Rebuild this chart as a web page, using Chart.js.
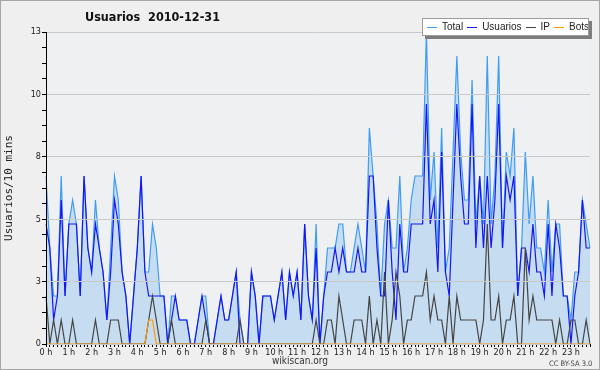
<!DOCTYPE html>
<html>
<head>
<meta charset="utf-8">
<script src="https://cdn.jsdelivr.net/npm/chart.js@4.4.0/dist/chart.umd.min.js"></script>
<style>
  body { margin: 0; background: #efefef; }
  .wrap { position: relative; width: 600px; height: 370px; background: #efefef; font-family: "DejaVu Sans Condensed", "DejaVu Sans", sans-serif; color: #222; }
  .wrap canvas { position: absolute; left: 0; top: 0; }
  .edge { position: absolute; left: 0; top: 0; width: 600px; height: 370px; box-sizing: border-box; border: 1px solid #a6a6a6; pointer-events: none; }
  .title { position: absolute; left: 85px; top: 9px; font-weight: bold; font-size: 12.5px; white-space: pre; color: #111; }
  .legend { position: absolute; left: 422px; top: 18px; width: 167px; height: 18px; box-sizing: border-box; background: #fff; border: 1px solid #9c9c9c; box-shadow: 3px 3px 0 #7d7d7d; font-family: "Liberation Sans", Arial, sans-serif; font-size: 10px; line-height: 16px; white-space: nowrap; padding-left: 4px; overflow: hidden; color: #222; }
  .legend span.mk { display: inline-block; width: 10px; height: 0; border-top: 1px solid; vertical-align: middle; margin: 0 5px 0 4px; }
  .legend span.mk:first-child { margin-left: 0; }
  .foot { position: absolute; left: 0; width: 600px; top: 355px; text-align: center; font-size: 10px; color: #333; }
  .cc { position: absolute; left: 549px; top: 359px; font-size: 7.5px; color: #444; }
</style>
</head>
<body>
<div class="wrap">
  <canvas id="chart" width="600" height="370"></canvas>
  <div class="title">Usuarios  2010-12-31</div>
  <div class="legend" id="legend"></div>
  <div class="foot">wikiscan.org</div>
  <div class="cc">CC BY-SA 3.0</div>
  <div class="edge"></div>
</div>
<script>
// one point every 10 minutes, 0:00 .. 23:50
const slots = Array.from({ length: 144 }, (_, i) =>
  `${Math.floor(i / 6)}:${String((i % 6) * 10).padStart(2, "0")}`
);

const total = [
  7, 4, 2, 2, 7, 2, 5, 6, 5, 2,
  7, 4, 3, 6, 4, 3, 1, 4, 7, 6,
  3, 2, 0, 2, 4, 7, 3, 3, 5, 4,
  2, 2, 0, 2, 2, 1, 1, 1, 0, 0,
  1, 2, 2, 0, 0, 1, 2, 1, 1, 2,
  3, 1, 0, 0, 3, 2, 0, 2, 2, 2,
  1, 2, 3, 1, 3, 2, 3, 1, 5, 2,
  1, 5, 0, 2, 4, 4, 4, 5, 5, 3,
  3, 4, 5, 4, 3, 9, 7, 5, 2, 5,
  6, 4, 4, 7, 3, 4, 6, 7, 7, 7,
  13, 6, 8, 4, 9, 3, 4, 8, 12, 8,
  6, 6, 11, 5, 7, 5, 12, 5, 7, 12,
  4, 8, 7, 9, 2, 4, 8, 5, 7, 4,
  4, 3, 6, 3, 5, 5, 2, 2, 1, 3,
  3, 6, 5, 4,
];

const usuarios = [
  5, 4, 1, 2, 6, 2, 5, 5, 5, 2,
  7, 4, 3, 5, 4, 3, 1, 3, 6, 5,
  3, 2, 0, 2, 4, 7, 3, 2, 2, 2,
  2, 2, 0, 1, 2, 1, 1, 1, 0, 0,
  1, 2, 1, 0, 0, 1, 2, 1, 1, 2,
  3, 0, 0, 0, 3, 2, 0, 2, 2, 2,
  1, 2, 3, 1, 3, 2, 3, 1, 5, 2,
  1, 4, 0, 2, 3, 3, 4, 3, 4, 3,
  3, 3, 4, 3, 3, 7, 7, 4, 2, 2,
  6, 3, 1, 5, 3, 3, 5, 5, 5, 5,
  10, 5, 6, 3, 8, 3, 2, 6, 10, 7,
  5, 5, 10, 4, 7, 4, 7, 4, 6, 10,
  4, 7, 6, 7, 2, 4, 4, 3, 5, 3,
  3, 2, 5, 2, 5, 4, 2, 2, 0, 2,
  3, 6, 4, 4,
];

const ip = [
  2, 0, 1, 0, 1, 0, 0, 1, 0, 0,
  0, 0, 0, 1, 0, 0, 0, 1, 1, 1,
  0, 0, 0, 0, 0, 0, 0, 1, 2, 1,
  0, 0, 0, 1, 0, 0, 0, 0, 0, 0,
  0, 0, 1, 0, 0, 0, 0, 0, 0, 0,
  0, 1, 0, 0, 0, 0, 0, 0, 0, 0,
  0, 0, 0, 0, 0, 0, 0, 0, 0, 0,
  0, 1, 0, 0, 1, 1, 0, 2, 1, 0,
  0, 1, 1, 1, 0, 2, 0, 1, 0, 3,
  0, 1, 3, 2, 0, 1, 1, 2, 2, 2,
  3, 1, 2, 1, 1, 0, 2, 0, 2, 1,
  1, 1, 1, 1, 0, 1, 5, 1, 1, 2,
  0, 1, 1, 2, 0, 0, 4, 1, 2, 1,
  1, 1, 1, 1, 0, 1, 0, 0, 1, 1,
  0, 0, 1, 0,
];

const bots = [
  0, 0, 0, 0, 0, 0, 0, 0, 0, 0,
  0, 0, 0, 0, 0, 0, 0, 0, 0, 0,
  0, 0, 0, 0, 0, 0, 0, 1, 1, 0,
  0, 0, 0, 0, 0, 0, 0, 0, 0, 0,
  0, 0, 0, 0, 0, 0, 0, 0, 0, 0,
  0, 0, 0, 0, 0, 0, 0, 0, 0, 0,
  0, 0, 0, 0, 0, 0, 0, 0, 0, 0,
  0, 0, 0, 0, 0, 0, 0, 0, 0, 0,
  0, 0, 0, 0, 0, 0, 0, 0, 0, 0,
  0, 0, 0, 0, 0, 0, 0, 0, 0, 0,
  0, 0, 0, 0, 0, 0, 0, 0, 0, 0,
  0, 0, 0, 0, 0, 0, 0, 0, 0, 0,
  0, 0, 0, 0, 0, 0, 0, 0, 0, 0,
  0, 0, 0, 0, 0, 0, 0, 0, 0, 0,
  0, 0, 0, 0,
];

const yMax = 13;
const yStep = 0.65; // 4 minor steps between labelled ticks

const series = [
  { label: "Total", data: total, color: "#3d9cf5", fill: "#c6dcf0", order: 4 },
  { label: "Usuarios", data: usuarios, color: "#1515f5", order: 3 },
  { label: "IP", data: ip, color: "#444444", order: 2 },
  { label: "Bots", data: bots, color: "#ff9900", order: 1 },
];

const legend = document.getElementById("legend");
series.forEach((s) => {
  const mk = document.createElement("span");
  mk.className = "mk";
  mk.style.borderColor = s.color;
  legend.appendChild(mk);
  legend.appendChild(document.createTextNode(s.label));
});

const plotBg = {
  id: "plotBg",
  beforeDraw(chart) {
    const { ctx, chartArea: a } = chart;
    ctx.save();
    ctx.fillStyle = "#eef0f2";
    ctx.fillRect(a.left, a.top, a.right - a.left, a.bottom - a.top);
    ctx.restore();
  },
};

new Chart(document.getElementById("chart"), {
  type: "line",
  data: {
    labels: slots,
    datasets: series.map((s) => ({
      label: s.label,
      data: s.data,
      borderColor: s.color,
      backgroundColor: s.fill || s.color,
      fill: s.fill ? "origin" : false,
      borderWidth: 1.2,
      pointRadius: 0,
      tension: 0,
      order: s.order,
    })),
  },
  options: {
    responsive: false,
    animation: false,
    devicePixelRatio: 1,
    layout: { padding: { top: 32, right: 10, left: 0, bottom: 0 } },
    plugins: { legend: { display: false }, tooltip: { enabled: false } },
    scales: {
      x: {
        offset: false,
        afterFit: (s) => { s.height = 26; },
        grid: { drawOnChartArea: false, drawTicks: true, tickLength: 3, tickColor: "#000" },
        border: { color: "#000", z: 1 },
        ticks: {
          autoSkip: false,
          maxRotation: 0,
          padding: 0,
          color: "#222",
          font: { family: "'DejaVu Sans Condensed', 'DejaVu Sans'", size: 9 },
          callback: (v, i) => (i % 6 === 0 ? `${i / 6} h` : ""),
        },
      },
      y: {
        min: 0,
        max: yMax,
        afterFit: (s) => { s.width = 46; },
        grid: {
          color: (c) => (c.index % 4 === 0 ? "#c9c9c9" : "rgba(0,0,0,0)"),
          tickColor: "#000",
          tickLength: 4,
          z: 1,
        },
        border: { color: "#000", z: 1 },
        title: {
          display: true,
          text: "Usuarios/10 mins",
          color: "#222",
          padding: { top: 3, bottom: 0 },
          font: { family: "'DejaVu Sans Mono'", size: 11 },
        },
        ticks: {
          stepSize: yStep,
          maxTicksLimit: 30,
          padding: 1,
          color: "#222",
          font: { family: "'DejaVu Sans Condensed', 'DejaVu Sans'", size: 9 },
          callback: (v, i) => (i % 4 === 0 ? String(Math.round(v)) : ""),
        },
      },
    },
  },
  plugins: [plotBg],
});
</script>
</body>
</html>
